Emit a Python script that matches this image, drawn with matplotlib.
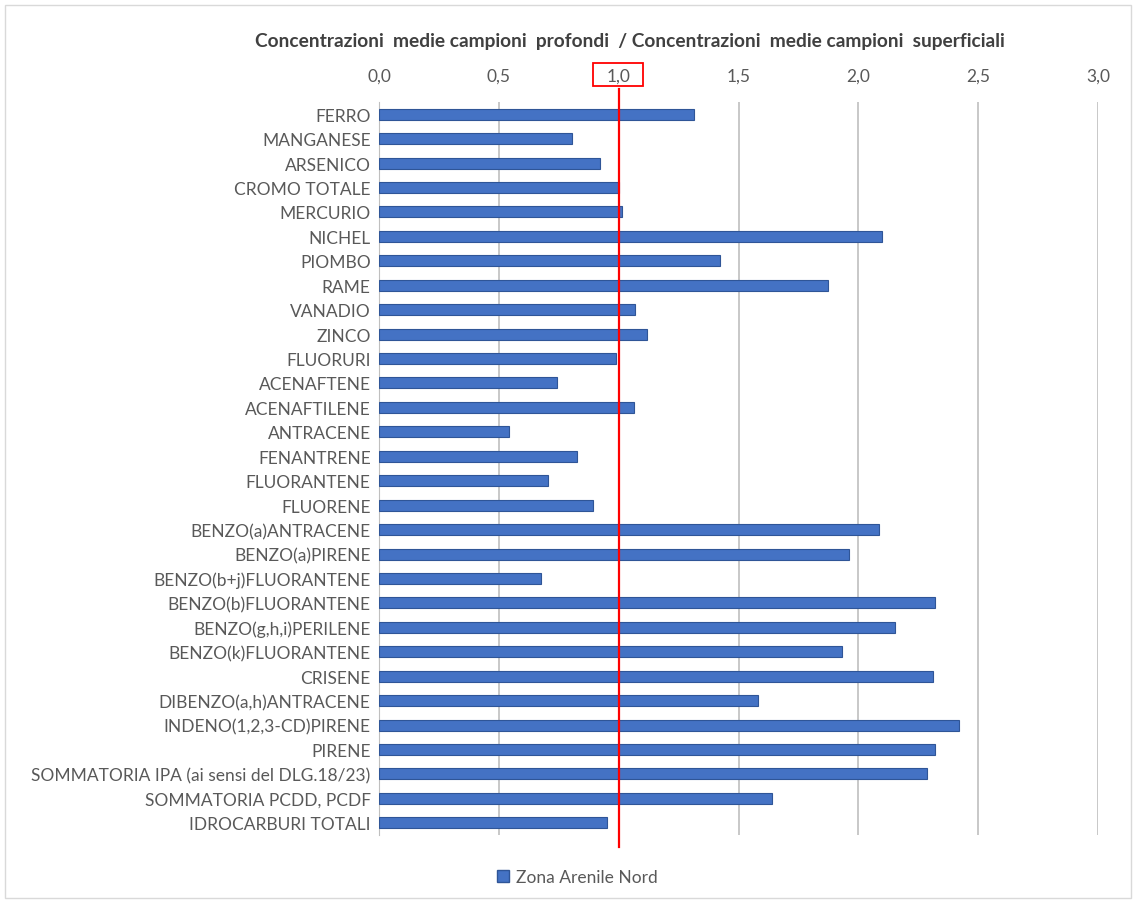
import matplotlib.pyplot as plt
from matplotlib.patches import Rectangle, Patch
from matplotlib.ticker import FuncFormatter

plt.rcParams['font.family'] = ['Lato', 'DejaVu Sans']

# Data (rapporto profondi / superficiali)
categorie = [
    'FERRO', 'MANGANESE', 'ARSENICO', 'CROMO TOTALE', 'MERCURIO', 'NICHEL',
    'PIOMBO', 'RAME', 'VANADIO', 'ZINCO', 'FLUORURI', 'ACENAFTENE',
    'ACENAFTILENE', 'ANTRACENE', 'FENANTRENE', 'FLUORANTENE', 'FLUORENE',
    'BENZO(a)ANTRACENE', 'BENZO(a)PIRENE', 'BENZO(b+j)FLUORANTENE',
    'BENZO(b)FLUORANTENE', 'BENZO(g,h,i)PERILENE', 'BENZO(k)FLUORANTENE',
    'CRISENE', 'DIBENZO(a,h)ANTRACENE', 'INDENO(1,2,3-CD)PIRENE', 'PIRENE',
    'SOMMATORIA IPA (ai sensi del DLG.18/23)', 'SOMMATORIA PCDD, PCDF',
    'IDROCARBURI TOTALI',
]
valori = [
    1.315, 0.807, 0.922, 1.000, 1.012, 2.100,
    1.423, 1.874, 1.068, 1.120, 0.990, 0.744,
    1.064, 0.544, 0.827, 0.706, 0.893,
    2.087, 1.960, 0.677,
    2.318, 2.155, 1.930,
    2.313, 1.583, 2.420, 2.318,
    2.285, 1.641,
    0.951,
]
serie = 'Zona Arenile Nord'
soglia = 1.0

fig = plt.figure(figsize=(11.36, 9.04), dpi=100)
ax = fig.add_axes([379 / 1136, 1 - 836 / 904, (1098 - 379) / 1136, (836 - 103) / 904])

# Light frame around the whole chart
fig.patches.append(Rectangle((5 / 1136, 5 / 904), 1126 / 1136, 893 / 904,
                             transform=fig.transFigure, fill=False,
                             edgecolor='#D9D9D9', lw=1))

pos = list(range(len(categorie)))
ax.barh(pos, valori, height=0.45, color='#4472C4', edgecolor='#2F5597', lw=0.8, zorder=3)

ax.set_ylim(len(categorie) - 0.5, -0.5)
ax.set_xlim(0, 3.0)
ax.set_xticks([0, 0.5, 1.0, 1.5, 2.0, 2.5, 3.0])
ax.xaxis.set_major_formatter(FuncFormatter(lambda v, p: f'{v:.1f}'.replace('.', ',')))
ax.xaxis.tick_top()
ax.set_yticks(pos)
ax.set_yticklabels(categorie)
ax.tick_params(axis='both', length=0, labelsize=12.5, colors='#595959', pad=6)
ax.tick_params(axis='x', pad=13)

ax.grid(axis='x', color='#BFBFBF', lw=1.2, zorder=0)
for s in ['top', 'right', 'bottom']:
    ax.spines[s].set_visible(False)
ax.spines['left'].set_color('#BFBFBF')

# Reference line at 1.0 with box around its tick label
ax.axvline(soglia, ymin=-0.016, ymax=1.018, color='#FF0000', lw=1.6, clip_on=False, zorder=4)
ax.add_patch(Rectangle((0.893, 1.022), 0.208, 0.031, transform=ax.get_xaxis_transform(),
                       fill=False, edgecolor='#FF0000', lw=1.3, clip_on=False))

fig.text(630 / 1136, 1 - 42 / 904,
         'Concentrazioni  medie campioni  profondi  / Concentrazioni  medie campioni  superficiali',
         ha='center', va='center', fontsize=13.8, fontweight='bold', color='#404040')

fig.legend(handles=[Patch(facecolor='#4472C4', edgecolor='#2F5597', label=serie)],
           loc='center', bbox_to_anchor=(577 / 1136, 1 - 878 / 904), frameon=False,
           fontsize=12.5, labelcolor='#595959', handlelength=0.7, handleheight=0.7,
           handletextpad=0.4)

fig.savefig('out.png', dpi=100)
